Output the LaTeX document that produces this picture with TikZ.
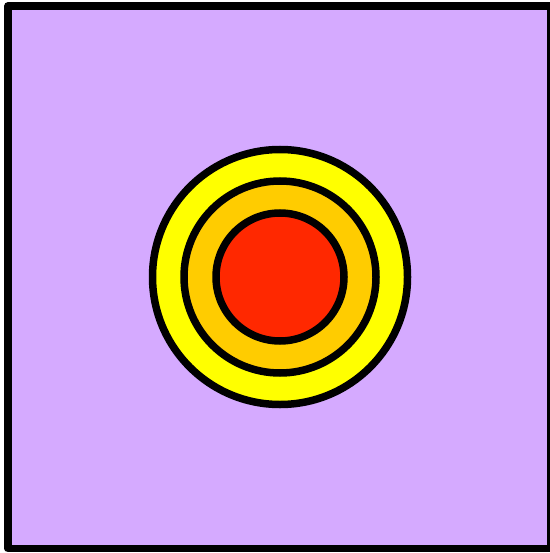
\documentclass[tikz,border=0pt]{standalone}
\definecolor{bgpurple}{RGB}{213,170,255}
\definecolor{ringyellow}{RGB}{255,255,0}
\definecolor{ringorange}{RGB}{255,204,0}
\definecolor{corered}{RGB}{255,40,0}
\tikzset{ring/.style={draw=black,line width=7.5pt}}
\begin{document}
\begin{tikzpicture}[x=1pt,y=-1pt]
\useasboundingbox (0,0) rectangle (549,553);
\draw[fill=bgpurple,line width=7.5pt,line join=round] (8,6) rectangle (550.5,548.5);
\node[ring,circle,fill=ringyellow,minimum size=255pt,inner sep=0pt] (outer) at (280,277) {};
\node[ring,circle,fill=ringorange,minimum size=192pt,inner sep=0pt] (middle) at (280,277) {};
\node[ring,circle,fill=corered,minimum size=128pt,inner sep=0pt] (inner) at (280,277) {};
\end{tikzpicture}
\end{document}
